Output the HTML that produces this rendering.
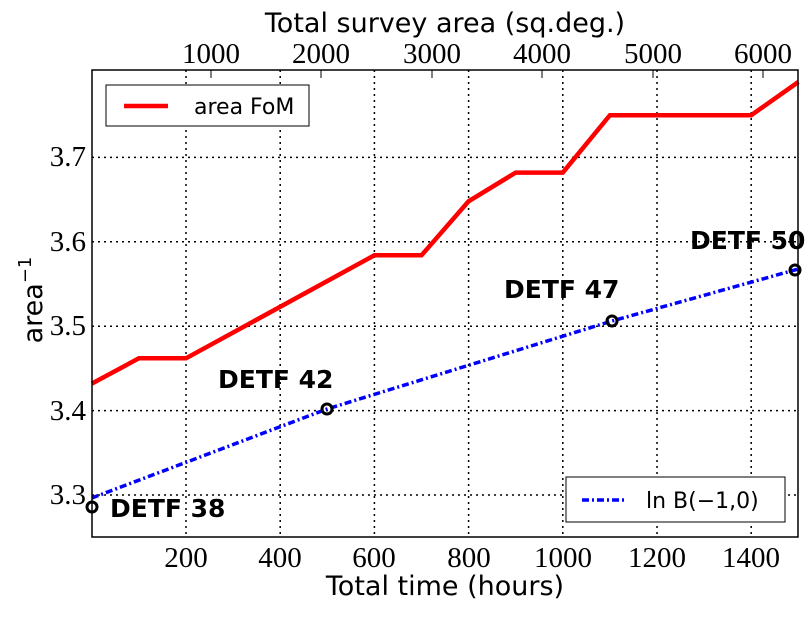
<!DOCTYPE html>
<html><head><meta charset="utf-8"><style>
body{margin:0;background:#fff;width:812px;height:612px;overflow:hidden}
text.r{font-family:"Liberation Serif",serif}
text.s{font-family:"DejaVu Sans","Liberation Sans",sans-serif}
</style></head><body>
<svg width="812" height="612" xmlns="http://www.w3.org/2000/svg">
<g stroke="#000" stroke-width="1.5" stroke-dasharray="2,4" fill="none">
<line x1="186" y1="70" x2="186" y2="537"/><line x1="280.2" y1="70" x2="280.2" y2="537"/>
<line x1="374.4" y1="70" x2="374.4" y2="537"/><line x1="468.6" y1="70" x2="468.6" y2="537"/>
<line x1="562.8" y1="70" x2="562.8" y2="537"/><line x1="657" y1="70" x2="657" y2="537"/>
<line x1="751.2" y1="70" x2="751.2" y2="537"/>
<line x1="92" y1="495" x2="798" y2="495"/><line x1="92" y1="410.6" x2="798" y2="410.6"/>
<line x1="92" y1="326.2" x2="798" y2="326.2"/><line x1="92" y1="241.8" x2="798" y2="241.8"/>
<line x1="92" y1="157.4" x2="798" y2="157.4"/>
</g>
<g stroke="#000" stroke-width="1">
<line x1="211" y1="70" x2="211" y2="78"/><line x1="321" y1="70" x2="321" y2="78"/>
<line x1="432" y1="70" x2="432" y2="78"/><line x1="542" y1="70" x2="542" y2="78"/>
<line x1="653" y1="70" x2="653" y2="78"/><line x1="763" y1="70" x2="763" y2="78"/>
</g>
<polyline fill="none" stroke="#f00" stroke-width="4.5" points="91.8,383.6 138.9,358.3 186,358.3 374.4,255.3 421.5,255.3 468.6,201.3 515.7,172.6 562.8,172.6 609.9,115.2 751.2,115.2 798.3,82"/>
<polyline fill="none" points="91.8,498 327,409 612,321 798.3,269" stroke="#00f" stroke-width="3.5" stroke-dasharray="7,3,2,3"/>
<g fill="none" stroke="#000" stroke-width="3">
<circle cx="92" cy="507" r="5"/><circle cx="327" cy="409" r="5"/><circle cx="612" cy="321" r="5"/><circle cx="795" cy="270" r="5"/>
</g>
<rect x="92" y="70" width="706" height="467" fill="none" stroke="#000" stroke-width="1.5"/>
<g font-weight="bold" font-size="25">
<text class="s" x="110" y="517">DETF 38</text><text class="s" x="218" y="388">DETF 42</text>
<text class="s" x="504" y="298">DETF 47</text><text class="s" x="690" y="249">DETF 50</text>
</g>
<rect x="106" y="85" width="203" height="41" fill="#fff" stroke="#000" stroke-width="1"/>
<line x1="124" y1="106" x2="168" y2="106" stroke="#f00" stroke-width="4.5"/>
<text class="s" x="194" y="114" font-size="22">area FoM</text>
<rect x="566" y="477" width="219" height="45" fill="#fff" stroke="#000" stroke-width="1"/>
<line x1="582" y1="500" x2="626" y2="500" stroke="#00f" stroke-width="3.5" stroke-dasharray="7,3,2,3"/>
<text class="s" x="646" y="508" font-size="22">ln B(−1,0)</text>
<g font-size="29" text-anchor="middle">
<text class="r" x="186" y="567">200</text><text class="r" x="280" y="567">400</text><text class="r" x="374" y="567">600</text>
<text class="r" x="469" y="567">800</text><text class="r" x="563" y="567">1000</text><text class="r" x="657" y="567">1200</text><text class="r" x="751" y="567">1400</text>
<text class="r" x="211" y="63">1000</text><text class="r" x="321" y="63">2000</text><text class="r" x="432" y="63">3000</text>
<text class="r" x="542" y="63">4000</text><text class="r" x="653" y="63">5000</text><text class="r" x="763" y="63">6000</text>
</g>
<g font-size="29" text-anchor="end">
<text class="r" x="86" y="504">3.3</text><text class="r" x="86" y="420">3.4</text><text class="r" x="86" y="335">3.5</text>
<text class="r" x="86" y="251">3.6</text><text class="r" x="86" y="166">3.7</text>
</g>
<text class="s" x="445" y="595" font-size="27" text-anchor="middle">Total time (hours)</text>
<text class="s" x="445" y="32" font-size="27" text-anchor="middle">Total survey area (sq.deg.)</text>
<text class="s" transform="translate(42,300) rotate(-90)" font-size="27" text-anchor="middle">area<tspan font-size="18" dy="-11">−1</tspan></text>
</svg>
</body></html>
